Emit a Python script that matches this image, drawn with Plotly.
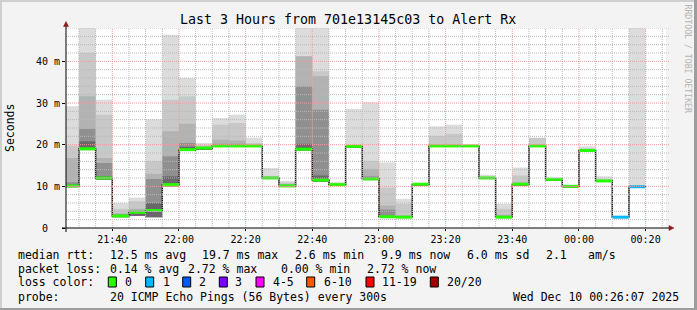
import plotly.graph_objects as go
import pandas as pd

# ---------------- data ----------------
bar_end = pd.date_range("2025-12-09 21:30", "2025-12-10 00:20", freq="5min")

median_ms = [10.1, 19.0, 12.0, 2.9, 3.8, 4.2, 10.4, 18.8, 19.2, 19.7, 19.7, 19.7, 12.0, 10.1, 18.9,
             11.5, 10.4, 19.6, 11.8, 2.7, 2.6, 10.5, 19.7, 19.7, 19.7, 12.0, 2.6, 10.5, 19.7, 11.7,
             10.0, 18.6, 11.3, 2.6, 9.9]
loss_count = [0, 0, 0, 0, 0, 0, 0, 0, 0, 0, 0, 0, 0, 0, 0,
              0, 0, 0, 0, 0, 0, 0, 0, 0, 0, 0, 0, 0, 0, 0,
              0, 0, 0, 1, 1]
# smoke (ping spread) band limits, ms
smoke_lo = [9.8, 18.7, 11.6, 2.6, 2.9, 2.6, 10.0, 18.5, 18.9, 19.5, 19.5, 19.5, 11.8, 9.9, 18.6,
            11.1, 10.2, 19.4, 11.5, 2.5, 2.4, 10.3, 19.5, 19.5, 19.5, 11.8, 2.4, 10.3, 19.5, 11.5,
            9.8, 18.4, 11.1, 2.4, 9.8]
smoke_d1 = [10.5, 20.8, 12.4, 3.1, 3.5, 6.0, 12.4, 19.5, 19.3, 19.9, 19.9, 19.8, 12.1, 10.2, 20.2,
            12.6, 10.5, 19.7, 12.0, 2.9, 2.8, 10.6, 19.8, 19.8, 19.8, 12.1, 2.8, 10.7, 19.8, 11.8,
            10.1, 18.7, 11.4, 2.7, 10.0]
smoke_d2 = [11.0, 23.8, 15.6, 3.3, 4.0, 11.8, 17.2, 20.4, 19.4, 20.2, 20.2, 19.9, 12.2, 10.4, 34.0,
            28.4, 10.6, 19.7, 12.4, 4.4, 2.9, 10.6, 19.8, 19.8, 19.8, 12.1, 2.9, 10.8, 19.8, 11.8,
            10.1, 18.7, 11.4, 2.7, 10.0]
smoke_d3 = [16.8, 31.6, 16.8, 3.5, 4.6, 13.0, 23.2, 25.0, 19.5, 21.2, 21.0, 20.0, 12.3, 10.6, 41.2,
            36.4, 10.7, 19.7, 14.2, 5.4, 3.0, 10.6, 19.9, 19.9, 19.8, 12.2, 3.2, 11.0, 19.9, 11.8,
            10.1, 18.8, 11.5, 2.7, 10.0]
smoke_d4 = [19.8, 42.0, 27.2, 4.6, 6.4, 16.0, 30.8, 31.6, 19.9, 24.8, 25.2, 20.4, 12.5, 10.9, 41.2,
            37.6, 10.8, 19.8, 16.1, 9.7, 5.8, 10.7, 22.1, 22.6, 19.9, 12.3, 4.6, 12.6, 21.6, 11.9,
            10.1, 19.1, 11.7, 2.7, 10.1]
smoke_max = [29.2, 52.0, 30.8, 6.0, 7.3, 26.1, 46.4, 36.0, 20.4, 26.4, 27.2, 21.7, 14.4, 11.3, 52.0,
             52.0, 11.0, 28.6, 30.2, 15.7, 7.0, 10.8, 24.4, 24.8, 19.9, 12.8, 5.8, 14.5, 21.7, 12.0,
             10.1, 19.6, 12.4, 2.8, 52.0]

y_tick_vals = [0, 10, 20, 30, 40]
y_tick_text = ["0\u00a0\u00a0", "10 m", "20 m", "30 m", "40 m"]

loss_labels = ["0", "1", "2", "3", "4-5", "6-10", "11-19", "20/20"]
loss_colors = ["#26ff00", "#00b8ff", "#0059ff", "#7e00ff", "#ff00ff", "#ff5500", "#ff0000", "#a10000"]

title_text = "Last 3 Hours from 701e13145c03 to Alert Rx"
row_rtt = ["median rtt:", "12.5 ms avg", "19.7 ms max", "2.6 ms min", "9.9 ms now", "6.0 ms sd", "2.1", "am/s"]
row_loss = ["packet loss:", "0.14 % avg", "2.72 % max", "0.00 % min", "2.72 % now"]
probe_label = "probe:"
probe_text = "20 ICMP Echo Pings (56 Bytes) every 300s"
stamp_text = "Wed Dec 10 00:26:07 2025"

# ---------------- geometry ----------------
W, H = 697, 310
ML, MR, MT, MB = 66, 31, 28, 82
PW, PH = W - ML - MR, H - MT - MB
X_START, X_END = "2025-12-09 21:26:07", "2025-12-10 00:26:07"
Y_MAX = 48
FONT = "DejaVu Sans Mono"


def px(x):
    return (x - ML) / PW


def py(y):
    return (H - MB - y) / PH


step = pd.Timedelta(minutes=5)
bar_start = bar_end - step
bar_mid = bar_end - step / 2

fig = go.Figure()

# smoke layers, lightest (widest) first
layers = [(smoke_max, "#dcdcdc"), (smoke_d4, "#c8c8c8"), (smoke_d3, "#b2b2b2"),
          (smoke_d2, "#909090"), (smoke_d1, "#686868")]
for top, col in layers:
    fig.add_trace(go.Bar(
        x=bar_mid, y=[t - l for t, l in zip(top, smoke_lo)], base=smoke_lo,
        width=step.total_seconds() * 1000, marker=dict(color=col, line=dict(width=0)),
        hoverinfo="skip", showlegend=False))

# median step line
fig.add_trace(go.Scatter(
    x=list(bar_start) + [bar_end[-1]], y=median_ms + [median_ms[-1]],
    mode="lines", line=dict(color="#202020", width=1.5, shape="hv"),
    hoverinfo="skip", showlegend=False))


def loss_idx(n):
    if n <= 3:
        return n
    if n <= 5:
        return 4
    if n <= 10:
        return 5
    if n <= 19:
        return 6
    return 7


for k, col in enumerate(loss_colors):
    xs, ys = [], []
    for s, e, m, n in zip(bar_start, bar_end, median_ms, loss_count):
        if loss_idx(n) == k:
            xs += [s, e, None]
            ys += [m, m, None]
    if xs:
        fig.add_trace(go.Scatter(x=xs, y=ys, mode="lines", line=dict(color=col, width=3),
                                 hoverinfo="skip", showlegend=False))

shapes = []
MINOR_C, MAJOR_C = "#b9b9b9", "#f09a9a"
# grid drawn over the data, as rrdtool does
t0 = pd.Timestamp(X_START)
t1 = pd.Timestamp(X_END)
g = t0.ceil("5min")
while g <= t1:
    major = (g.minute % 20 == 0)
    shapes.append(dict(type="line", xref="x", yref="paper", x0=g, x1=g, y0=0, y1=1,
                       line=dict(color=MAJOR_C if major else MINOR_C, width=1, dash="1px,1px"),
                       layer="above"))
    g += step
for v in range(2, Y_MAX + 1, 2):
    major = (v % 10 == 0)
    shapes.append(dict(type="line", xref="paper", yref="y", x0=0, x1=px(669), y0=v, y1=v,
                       line=dict(color=MAJOR_C if major else MINOR_C, width=1, dash="1px,1px"),
                       layer="above"))
# axis lines and arrows
shapes.append(dict(type="line", xref="paper", yref="paper", x0=px(62), x1=px(670), y0=0, y1=0,
                   line=dict(color="#000000", width=1), layer="above"))
shapes.append(dict(type="line", xref="paper", yref="paper", x0=0, x1=0, y0=py(232), y1=py(24),
                   line=dict(color="#000000", width=1), layer="above"))
shapes.append(dict(type="path", xref="paper", yref="paper",
                   path=f"M {px(669)} {py(225.5)} L {px(674)} {py(228)} L {px(669)} {py(230.5)} Z",
                   fillcolor="#8b1a1a", line=dict(color="#8b1a1a", width=0.5), layer="above"))
shapes.append(dict(type="path", xref="paper", yref="paper",
                   path=f"M {px(63.5)} {py(26.5)} L {px(66)} {py(21.5)} L {px(68.5)} {py(26.5)} Z",
                   fillcolor="#8b1a1a", line=dict(color="#8b1a1a", width=0.5), layer="above"))
# frame of the image
shapes += [
    dict(type="rect", xref="paper", yref="paper", x0=px(0), x1=px(W), y0=py(0), y1=py(2),
         fillcolor="#cfcfcf", line=dict(width=0), layer="below"),
    dict(type="rect", xref="paper", yref="paper", x0=px(0), x1=px(2), y0=py(0), y1=py(H),
         fillcolor="#cfcfcf", line=dict(width=0), layer="below"),
    dict(type="rect", xref="paper", yref="paper", x0=px(694), x1=px(W), y0=py(0), y1=py(H),
         fillcolor="#9d9d9d", line=dict(width=0), layer="below"),
    dict(type="rect", xref="paper", yref="paper", x0=px(0), x1=px(W), y0=py(308), y1=py(H),
         fillcolor="#9d9d9d", line=dict(width=0), layer="below"),
]

ann = []


def text(x, y, s, size=11.5, anchor="left", color="#000000", angle=0):
    ann.append(dict(x=px(x), y=py(y), xref="paper", yref="paper", text=s, showarrow=False,
                    xanchor=anchor, yanchor="middle", textangle=angle,
                    font=dict(family=FONT, size=size, color=color)))


text(347.5, 19, title_text, size=13.3, anchor="center")
text(10, 128, "Seconds", size=11.5, anchor="center", angle=-90)
text(687.5, 59, "RRDTOOL / TOBI OETIKER", size=8.2, anchor="center", color="#b4b4b4", angle=90)

rtt_x = [16, 107.7, 200, 293.3, 379, 465.3, 543.7, 586.3]
for s, x in zip(row_rtt, rtt_x):
    text(x, 254.5, s)
loss_x = [16, 107.7, 186, 279.3, 365.3]
for s, x in zip(row_loss, loss_x):
    text(x, 268.5, s)
text(16, 282, "loss color:")
sw_x = [108.3, 145.7, 182.7, 219.3, 256, 306.7, 366, 430.3]
lab_x = [123.3, 160.7, 196.7, 233.3, 270.7, 321.7, 380.3, 445.3]
for lab, col, sx, lx in zip(loss_labels, loss_colors, sw_x, lab_x):
    shapes.append(dict(type="rect", xref="paper", yref="paper", x0=px(sx), x1=px(sx + 8),
                       y0=py(277), y1=py(287), fillcolor=col,
                       line=dict(color="#000000", width=1), layer="above"))
    text(lx, 282, lab)
text(16, 296.7, probe_label)
text(107.7, 296.7, probe_text)
text(680.5, 296.7, stamp_text, anchor="right")

fig.update_layout(
    width=W, height=H, autosize=False,
    margin=dict(l=ML, r=MR, t=MT, b=MB, pad=0),
    paper_bgcolor="#f3f3f3", plot_bgcolor="#ffffff",
    barmode="overlay", showlegend=False,
    shapes=shapes, annotations=ann,
    xaxis=dict(type="date", range=[X_START, X_END], showgrid=False, zeroline=False,
               showline=False, tick0="2025-12-09 21:40", dtick=20 * 60 * 1000,
               tickformat="%H:%M", ticks="outside", ticklen=2, tickcolor="#000000",
               tickfont=dict(family=FONT, size=10, color="#000000"), fixedrange=True),
    yaxis=dict(range=[0, Y_MAX], showgrid=False, zeroline=False, showline=False,
               tickvals=y_tick_vals, ticktext=y_tick_text, ticks="outside", ticklen=3,
               tickcolor="#000000", tickfont=dict(family=FONT, size=10, color="#000000"),
               fixedrange=True),
)

fig.write_html("out.html")
